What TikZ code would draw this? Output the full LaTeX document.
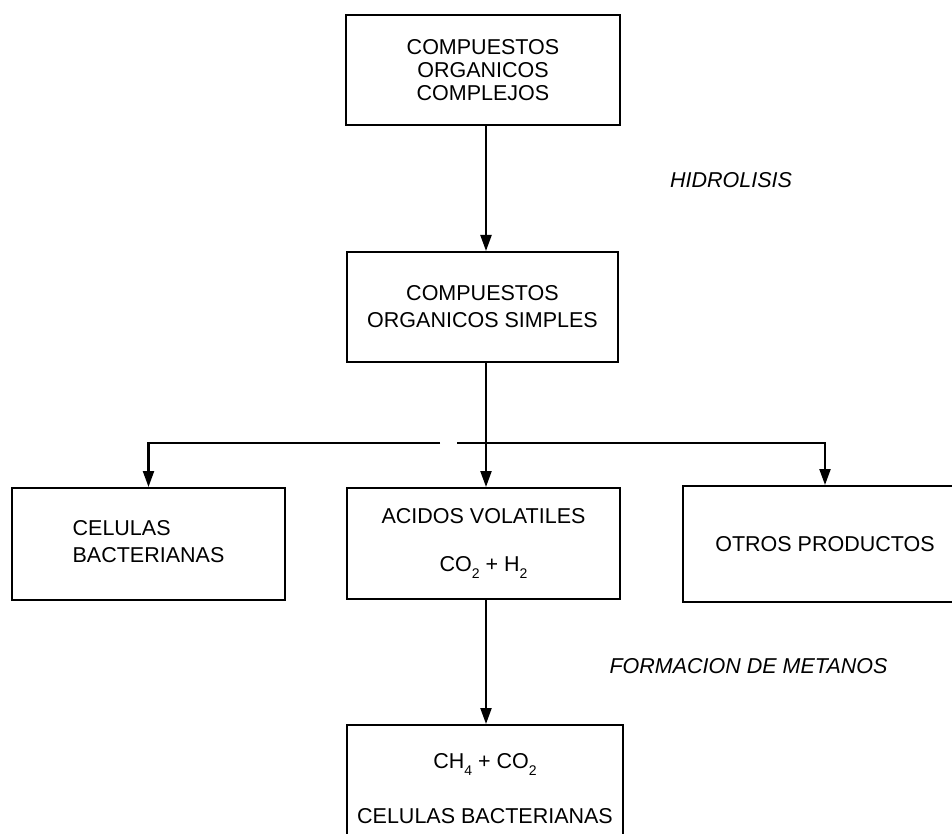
\documentclass[tikz,border=0pt]{standalone}
\usepackage{fontspec}
\setmainfont{Liberation Sans}
\usetikzlibrary{arrows.meta}
\newcommand\dn[1]{\raisebox{-0.3em}{\fontsize{14}{14}\selectfont #1}}
\tikzset{
  box/.style={draw, line width=2pt, rectangle, align=center, inner sep=0pt,
    font=\fontsize{21.5}{23}\selectfont},
  link/.style={line width=2.2pt},
  arr/.style={link, -{Triangle[length=16pt,width=11pt]}},
  stage/.style={font=\fontsize{21.5}{23}\selectfont\itshape, inner sep=0pt}
}
\begin{document}
\begin{tikzpicture}[x=1pt,y=-1pt]
  \useasboundingbox (0,0) rectangle (952,834);
  \clip (0,0) rectangle (952,834);
  \fill[white] (0,0) rectangle (952,834);

  % boxes
  \node[box, minimum width=274pt, minimum height=110pt] (coc) at (483,70)
    {COMPUESTOS\\ORGANICOS\\COMPLEJOS};
  \node[box, minimum width=271pt, minimum height=110pt] (cos) at (482.5,307)
    {COMPUESTOS\\[4pt]ORGANICOS SIMPLES};
  \node[box, minimum width=273pt, minimum height=112pt] (cel) at (148.5,544)
    {\begin{tabular}{@{}l@{}}CELULAS\\[4pt]BACTERIANAS\end{tabular}};
  \node[box, minimum width=273pt, minimum height=111pt] (aci) at (483.5,543.5)
    {ACIDOS VOLATILES\\[25pt]CO\dn{2} + H\dn{2}};
  \node[box, minimum width=284pt, minimum height=116pt] (otr) at (825,544)
    {OTROS PRODUCTOS};
  \node[box, minimum width=276pt, minimum height=128pt] (met) at (485,789)
    {CH\dn{4} + CO\dn{2}\\[32pt]CELULAS BACTERIANAS};

  % stage labels
  \node[stage] (hid) at (731,180) {HIDROLISIS};
  \node[stage] (for) at (748.5,666) {FORMACION DE METANOS};

  % connectors
  \coordinate (j) at (486,443);
  \coordinate (gl) at (440,443);
  \coordinate (gr) at (457,443);
  \draw[arr] (coc.south -| j) -- (cos.north -| j);
  \draw[link] (cos.south -| j) -- (j);
  \draw[arr] (j) -- (aci.north -| j);
  \draw[arr] (gl) -| (cel.north);
  \draw[arr] (gr) -| (otr.north);
  \draw[arr] (aci.south -| j) -- (met.north -| j);
\end{tikzpicture}
\end{document}
